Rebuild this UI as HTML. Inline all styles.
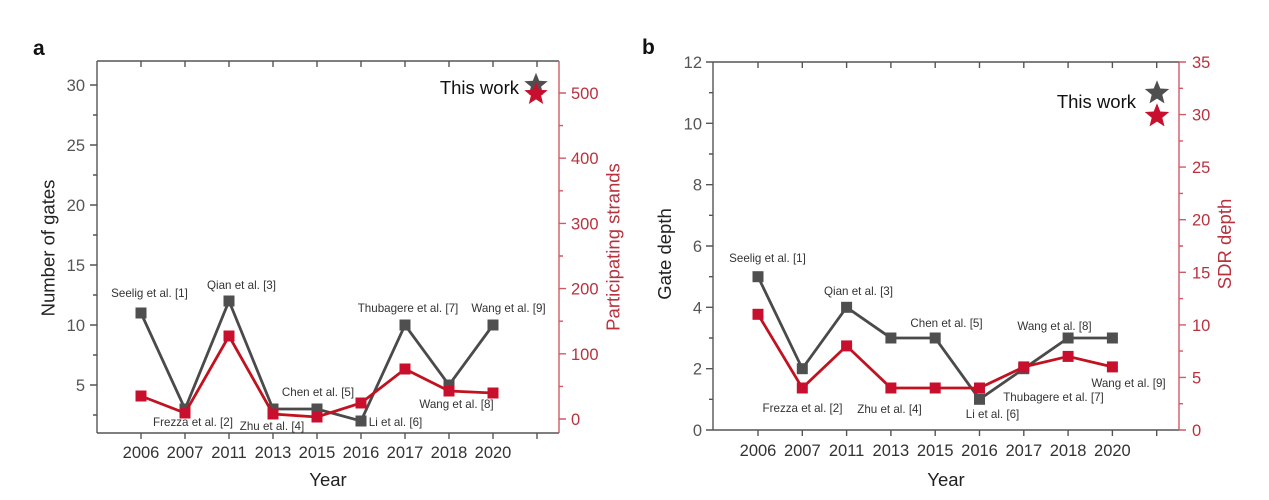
<!DOCTYPE html>
<html><head><meta charset="utf-8"><style>
html,body{margin:0;padding:0;background:#fff;}
svg{display:block;}
text{font-family:"Liberation Sans",Arial,sans-serif;}
.tl{font-size:16.5px;fill:#555;}
.tr{font-size:16.5px;fill:#b8323e;}
.yr{font-size:16.5px;fill:#333;text-anchor:middle;}
.lb{font-size:11.6px;fill:#333;text-anchor:middle;}
.ax{font-size:18.5px;fill:#222;text-anchor:middle;}
.axr{font-size:18.5px;fill:#b8323e;text-anchor:middle;}
</style></head><body>
<svg width="1269" height="500" viewBox="0 0 1269 500" xmlns="http://www.w3.org/2000/svg">
<rect width="1269" height="500" fill="#fff"/>

<!-- ================= PANEL A ================= -->
<text x="33" y="55" style="font-size:21px;font-weight:bold;fill:#111">a</text>
<!-- frame -->
<g stroke="#555" stroke-width="1.4" fill="none">
<line x1="97" y1="61" x2="559" y2="61"/>
<line x1="97" y1="61" x2="97" y2="433"/>
<line x1="97" y1="433" x2="559" y2="433"/>
<!-- top ticks -->
<path d="M141 61v6M185 61v6M229 61v6M273 61v6M317 61v6M361 61v6M405 61v6M449 61v6M493 61v6M537 61v6"/>
<!-- bottom ticks -->
<path d="M141 433v6M185 433v6M229 433v6M273 433v6M317 433v6M361 433v6M405 433v6M449 433v6M493 433v6M537 433v6"/>
<!-- left major -->
<path d="M97 385h-7M97 325h-7M97 265h-7M97 205h-7M97 145h-7M97 85h-7"/>
<!-- left minor -->
<path d="M97 415h-4M97 355h-4M97 295h-4M97 235h-4M97 175h-4M97 115h-4"/>
</g>
<g stroke="#cf5a66" stroke-width="1.4" fill="none">
<line x1="559" y1="61" x2="559" y2="433"/>
<path d="M559 419h7M559 353.8h7M559 288.6h7M559 223.4h7M559 158.2h7M559 93h7"/>
<path d="M559 386.4h4M559 321.2h4M559 256h4M559 190.8h4M559 125.6h4"/>
</g>
<!-- left tick labels -->
<g class="tl" text-anchor="end">
<text x="85" y="391">5</text>
<text x="85" y="331">10</text>
<text x="85" y="271">15</text>
<text x="85" y="211">20</text>
<text x="85" y="151">25</text>
<text x="85" y="91">30</text>
</g>
<!-- right tick labels -->
<g class="tr">
<text x="571" y="425">0</text>
<text x="571" y="360">100</text>
<text x="571" y="294.6">200</text>
<text x="571" y="229.4">300</text>
<text x="571" y="164.2">400</text>
<text x="571" y="99">500</text>
</g>
<!-- year labels -->
<g class="yr">
<text x="141" y="458">2006</text>
<text x="185" y="458">2007</text>
<text x="229" y="458">2011</text>
<text x="273" y="458">2013</text>
<text x="317" y="458">2015</text>
<text x="361" y="458">2016</text>
<text x="405" y="458">2017</text>
<text x="449" y="458">2018</text>
<text x="493" y="458">2020</text>
</g>
<text class="ax" x="328" y="486">Year</text>
<text class="ax" transform="translate(54.5,248) rotate(-90)">Number of gates</text>
<text class="axr" transform="translate(619.5,247) rotate(-90)">Participating strands</text>

<!-- series a -->
<polyline fill="none" stroke="#4a4a4a" stroke-width="2.8" stroke-linejoin="miter" points="141,313 185,409 229,301 273,409 317,409 361,421 405,325 449,385 493,325"/>
<g fill="#4f4f4f">
<rect x="135.5" y="307.5" width="11" height="11"/>
<rect x="179.5" y="403.5" width="11" height="11"/>
<rect x="223.5" y="295.5" width="11" height="11"/>
<rect x="267.5" y="403.5" width="11" height="11"/>
<rect x="311.5" y="403.5" width="11" height="11"/>
<rect x="355.5" y="415.5" width="11" height="11"/>
<rect x="399.5" y="319.5" width="11" height="11"/>
<rect x="443.5" y="379.5" width="11" height="11"/>
<rect x="487.5" y="319.5" width="11" height="11"/>
</g>
<polyline fill="none" stroke="#c1121f" stroke-width="2.8" points="141,396 185,413 229,336 273,414 317,417 361,403 405,369 449,391 493,393"/>
<g fill="#c8102e">
<rect x="135.5" y="390.5" width="11" height="11"/>
<rect x="179.5" y="407.5" width="11" height="11"/>
<rect x="223.5" y="330.5" width="11" height="11"/>
<rect x="267.5" y="408.5" width="11" height="11"/>
<rect x="311.5" y="411.5" width="11" height="11"/>
<rect x="355.5" y="397.5" width="11" height="11"/>
<rect x="399.5" y="363.5" width="11" height="11"/>
<rect x="443.5" y="385.5" width="11" height="11"/>
<rect x="487.5" y="387.5" width="11" height="11"/>
</g>
<!-- stars a -->
<polygon transform="translate(536,85)" fill="#4f4f4f" points="0,-12.3 3.2,-4.3 11.7,-3.8 5.1,1.6 7.2,10 0,5.4 -7.2,10 -5.1,1.6 -11.7,-3.8 -3.2,-4.3"/>
<polygon transform="translate(536,94)" fill="#c8102e" points="0,-12.3 3.2,-4.3 11.7,-3.8 5.1,1.6 7.2,10 0,5.4 -7.2,10 -5.1,1.6 -11.7,-3.8 -3.2,-4.3"/>
<text x="519" y="94" text-anchor="end" style="font-size:18.5px;fill:#111">This work</text>

<!-- labels a -->
<text class="lb" x="149.5" y="297">Seelig et al. [1]</text>
<text class="lb" x="241.5" y="289">Qian et al. [3]</text>
<text class="lb" x="193" y="426">Frezza et al. [2]</text>
<text class="lb" x="272" y="430">Zhu et al. [4]</text>
<text class="lb" x="318" y="396">Chen et al. [5]</text>
<text class="lb" x="395.5" y="426">Li et al. [6]</text>
<text class="lb" x="408" y="312">Thubagere et al. [7]</text>
<text class="lb" x="508.5" y="312">Wang et al. [9]</text>
<text class="lb" x="456.5" y="408">Wang et al. [8]</text>

<!-- ================= PANEL B ================= -->
<text x="642" y="54" style="font-size:21px;font-weight:bold;fill:#111">b</text>
<g stroke="#555" stroke-width="1.4" fill="none">
<line x1="713" y1="62" x2="1179" y2="62"/>
<line x1="713" y1="62" x2="713" y2="430"/>
<line x1="713" y1="430" x2="1179" y2="430"/>
<path d="M758 62v6M802.3 62v6M846.6 62v6M890.9 62v6M935.2 62v6M979.5 62v6M1023.8 62v6M1068.1 62v6M1112.4 62v6M1156.7 62v6"/>
<path d="M758 430v6M802.3 430v6M846.6 430v6M890.9 430v6M935.2 430v6M979.5 430v6M1023.8 430v6M1068.1 430v6M1112.4 430v6M1156.7 430v6"/>
<path d="M713 430h-7M713 368.7h-7M713 307.3h-7M713 246h-7M713 184.7h-7M713 123.3h-7M713 62h-7"/>
<path d="M713 399.3h-4M713 338h-4M713 276.7h-4M713 215.3h-4M713 154h-4M713 92.7h-4"/>
</g>
<g stroke="#cf5a66" stroke-width="1.4" fill="none">
<line x1="1179" y1="62" x2="1179" y2="430"/>
<path d="M1179 430h7M1179 377.4h7M1179 324.9h7M1179 272.3h7M1179 219.7h7M1179 167.1h7M1179 114.6h7M1179 62h7"/>
<path d="M1179 403.7h4M1179 351.1h4M1179 298.6h4M1179 246h4M1179 193.4h4M1179 140.9h4M1179 88.3h4"/>
</g>
<g class="tl" text-anchor="end">
<text x="702" y="436">0</text>
<text x="702" y="374.7">2</text>
<text x="702" y="313.3">4</text>
<text x="702" y="252">6</text>
<text x="702" y="190.7">8</text>
<text x="702" y="129.3">10</text>
<text x="702" y="68">12</text>
</g>
<g class="tr">
<text x="1192" y="436">0</text>
<text x="1192" y="383.4">5</text>
<text x="1192" y="330.9">10</text>
<text x="1192" y="278.3">15</text>
<text x="1192" y="225.7">20</text>
<text x="1192" y="173.1">25</text>
<text x="1192" y="120.6">30</text>
<text x="1192" y="68">35</text>
</g>
<g class="yr">
<text x="758" y="456">2006</text>
<text x="802.3" y="456">2007</text>
<text x="846.6" y="456">2011</text>
<text x="890.9" y="456">2013</text>
<text x="935.2" y="456">2015</text>
<text x="979.5" y="456">2016</text>
<text x="1023.8" y="456">2017</text>
<text x="1068.1" y="456">2018</text>
<text x="1112.4" y="456">2020</text>
</g>
<text class="ax" x="946" y="486">Year</text>
<text class="ax" transform="translate(671,254) rotate(-90)">Gate depth</text>
<text class="axr" transform="translate(1231,244) rotate(-90)">SDR depth</text>

<polyline fill="none" stroke="#4a4a4a" stroke-width="2.8" points="758,276.7 802.3,368.7 846.6,307.3 890.9,338 935.2,338 979.5,399.3 1023.8,368.7 1068.1,338 1112.4,338"/>
<g fill="#4f4f4f">
<rect x="752.5" y="271.2" width="11" height="11"/>
<rect x="796.8" y="363.2" width="11" height="11"/>
<rect x="841.1" y="301.8" width="11" height="11"/>
<rect x="885.4" y="332.5" width="11" height="11"/>
<rect x="929.7" y="332.5" width="11" height="11"/>
<rect x="974" y="393.8" width="11" height="11"/>
<rect x="1018.3" y="363.2" width="11" height="11"/>
<rect x="1062.6" y="332.5" width="11" height="11"/>
<rect x="1106.9" y="332.5" width="11" height="11"/>
</g>
<polyline fill="none" stroke="#c1121f" stroke-width="2.8" points="758,314.3 802.3,388 846.6,345.9 890.9,388 935.2,388 979.5,388 1023.8,366.9 1068.1,356.4 1112.4,366.9"/>
<g fill="#c8102e">
<rect x="752.5" y="308.8" width="11" height="11"/>
<rect x="796.8" y="382.5" width="11" height="11"/>
<rect x="841.1" y="340.4" width="11" height="11"/>
<rect x="885.4" y="382.5" width="11" height="11"/>
<rect x="929.7" y="382.5" width="11" height="11"/>
<rect x="974" y="382.5" width="11" height="11"/>
<rect x="1018.3" y="361.4" width="11" height="11"/>
<rect x="1062.6" y="350.9" width="11" height="11"/>
<rect x="1106.9" y="361.4" width="11" height="11"/>
</g>
<polygon transform="translate(1157,93)" fill="#4f4f4f" points="0,-12.8 3.3,-4.5 12.2,-4 5.3,1.7 7.5,10.4 0,5.6 -7.5,10.4 -5.3,1.7 -12.2,-4 -3.3,-4.5"/>
<polygon transform="translate(1157,116)" fill="#c8102e" points="0,-12.8 3.3,-4.5 12.2,-4 5.3,1.7 7.5,10.4 0,5.6 -7.5,10.4 -5.3,1.7 -12.2,-4 -3.3,-4.5"/>
<text x="1136" y="108" text-anchor="end" style="font-size:18.5px;fill:#111">This work</text>

<text class="lb" x="767.5" y="262">Seelig et al. [1]</text>
<text class="lb" x="858.5" y="295">Qian et al. [3]</text>
<text class="lb" x="946.5" y="327">Chen et al. [5]</text>
<text class="lb" x="802.5" y="412">Frezza et al. [2]</text>
<text class="lb" x="889.5" y="413">Zhu et al. [4]</text>
<text class="lb" x="992.5" y="418">Li et al. [6]</text>
<text class="lb" x="1053.5" y="401">Thubagere et al. [7]</text>
<text class="lb" x="1054.5" y="330">Wang et al. [8]</text>
<text class="lb" x="1128.5" y="387">Wang et al. [9]</text>
</svg>
</body></html>
